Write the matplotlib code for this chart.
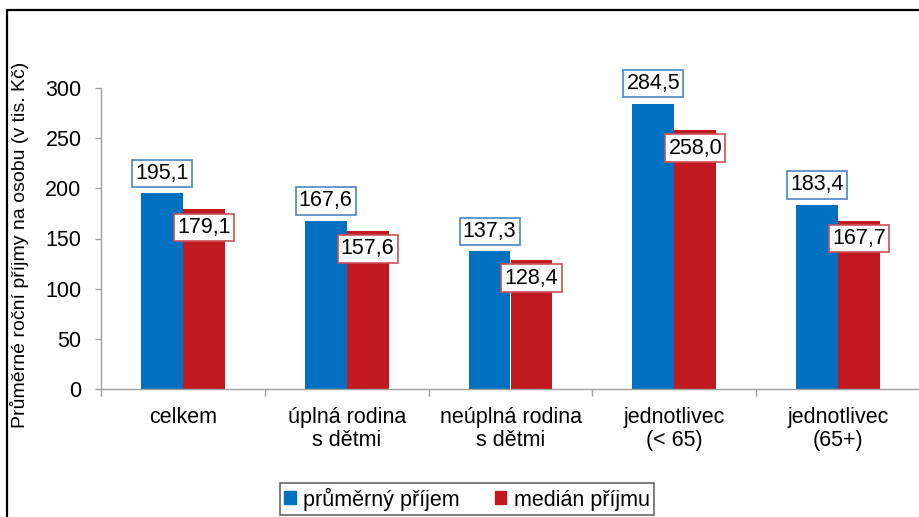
import matplotlib
matplotlib.use("Agg")
import matplotlib.pyplot as plt
from matplotlib.patches import Rectangle, Patch
import numpy as np

plt.rcParams['font.family'] = ['Liberation Sans', 'DejaVu Sans']

categories = ["celkem", "úplná rodina\ns dětmi", "neúplná rodina\ns dětmi", "jednotlivec\n(< 65)", "jednotlivec\n(65+)"]
prumerny = [195.1, 167.6, 137.3, 284.5, 183.4]
median = [179.1, 157.6, 128.4, 258.0, 167.7]
series_names = ["průměrný příjem", "medián příjmu"]
yticks = [0, 50, 100, 150, 200, 250, 300]

blue = "#0070C0"
red = "#C0191F"
blue_edge = "#4A86C5"
red_edge = "#C8505A"

W, H = 919, 517
fig = plt.figure(figsize=(W/100, H/100), dpi=100)

# figure border
fig.patches.append(Rectangle((7/W, -0.1), 1.2, 1 - 10/H + 0.1, transform=fig.transFigure,
                             fill=False, edgecolor="black", linewidth=1.6))

ax = fig.add_axes([101/W, 1 - 389/H, (920 - 101)/W, (389 - 88)/H])
x = np.arange(len(categories))
bw = 0.256
ax.bar(x - bw/2, prumerny, bw, color=blue, label=series_names[0])
ax.bar(x + bw/2, median, bw, color=red, label=series_names[1])

FS = 15.5
for xi, v in zip(x, prumerny):
    s = f"{v:.1f}".replace(".", ",")
    ax.annotate(s, (xi - bw/2, v), xytext=(0, 20), textcoords="offset pixels",
                ha="center", va="center", fontsize=FS,
                bbox=dict(boxstyle="square,pad=0.15", fc="white", ec=blue_edge, lw=1.2))
for xi, v in zip(x, median):
    s = f"{v:.1f}".replace(".", ",")
    ax.annotate(s, (xi + bw/2, v), xytext=(0, -18), textcoords="offset pixels",
                ha="center", va="center", fontsize=FS,
                bbox=dict(boxstyle="square,pad=0.15", fc="white", ec=red_edge, lw=1.2))

ax.set_xlim(-0.5, len(categories) - 0.5)
ax.set_ylim(0, 300)
ax.set_yticks(yticks)
ax.tick_params(axis="y", labelsize=FS, color="#A0A0A0", length=4, width=1, pad=10)
ax.set_xticks(np.arange(-0.5, len(categories) + 0.5, 1))
ax.set_xticklabels([])
ax.set_xticks(x, minor=True)
ax.set_xticklabels(categories, minor=True, fontsize=FS, linespacing=1.15)
ax.tick_params(axis="x", which="major", color="#A0A0A0", length=5, width=1)
ax.tick_params(axis="x", which="minor", length=0, pad=13)
for sp in ["top", "right"]:
    ax.spines[sp].set_visible(False)
for sp in ["left", "bottom"]:
    ax.spines[sp].set_color("#A0A0A0")
    ax.spines[sp].set_linewidth(1)

fig.text(20/W, 1 - 245/H, "Průměrné roční příjmy na osobu (v tis. Kč)", rotation=90,
         ha="center", va="center", fontsize=14)

handles = [Patch(color=blue), Patch(color=red)]
leg = fig.legend(handles, series_names, loc="center", bbox_to_anchor=(467/W, 1 - 499/H),
                 ncol=2, fontsize=FS, frameon=True, fancybox=False, handlelength=0.55,
                 handleheight=0.55, handletextpad=0.35, columnspacing=1.6, borderpad=0.2)
leg.get_frame().set_edgecolor("#404040")
leg.get_frame().set_linewidth(1.2)

fig.savefig("out.png", dpi=100)
